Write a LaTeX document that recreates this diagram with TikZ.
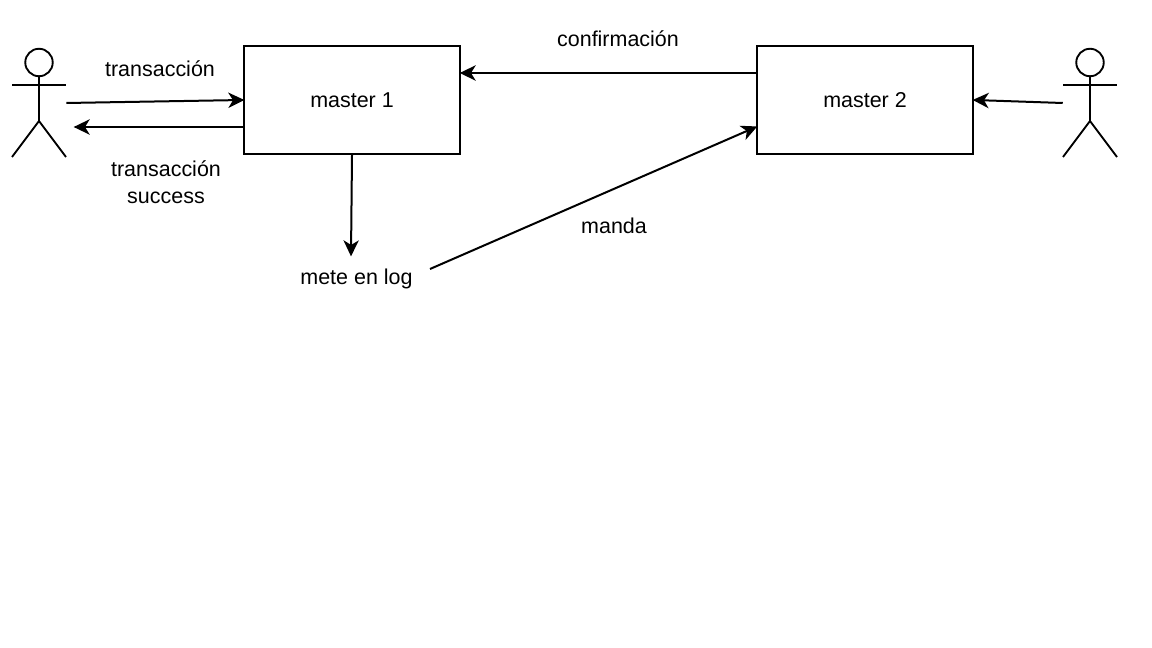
\documentclass[tikz,border=0pt]{standalone}
\usepackage{fontspec}
\setmainfont{Liberation Sans}
\usetikzlibrary{arrows.meta}
\tikzset{
  masterbox/.style={draw,line width=1.5pt,minimum width=162pt,minimum height=81pt,inner sep=0pt},
  actorbox/.style={minimum width=40.5pt,minimum height=81pt,inner sep=0pt},
  caption/.style={align=center,inner sep=0pt,font=\fontsize{16.1}{20.25}\selectfont},
  link/.style={line width=1.5pt,shorten >=-1pt,-{Stealth[length=12pt,width=11.5pt,inset=3.5pt]}},
  actor/.pic={
    \draw[line width=1.4pt] (0,-40.5) circle(10.3pt);
    \draw[line width=1.4pt] (0,-26) -- (0,18);
    \draw[line width=1.4pt] (-27,-18) -- (27,-18);
    \draw[line width=1.4pt] (-27,54) -- (0,18) -- (27,54);
  }
}
\begin{document}
\begin{tikzpicture}[x=0.75pt,y=-0.75pt]
   \useasboundingbox (0,0) rectangle (1152,648);
   \node[masterbox,caption] (master1) at (352,100) {master 1};
   \node[masterbox,caption] (master2) at (865,100) {master 2};
   \node[actorbox] (user1) at (39,103) {};
   \node[actorbox] (user2) at (1090,103) {};
   \pic at (user1) {actor};
   \pic at (user2) {actor};
   \node[caption] (txlabel) at (160,69) {transacción};
   \node[caption] (oklabel) at (166,182) {transacción\\success};
   \node[caption] (conflabel) at (618,39) {confirmación};
   \node[caption] (sendlabel) at (614,226) {manda};
   \node[caption] (loglabel) at (356.5,279) {mete en log};
   \coordinate (backend) at (75,127);
   \coordinate (logtop) at (351,255);
   \coordinate (logout) at (430,269);
   % arrows
   \draw[link] (user1.east) -- (master1.west);
   \draw[link] (master1.west |- backend) -- (backend);
   \draw[link] (master1.south) -- (logtop);
   \draw[link] (logout) -- (master2.west |- backend);
   \draw[link] (master2.west |- 0,73) -- (master1.east |- 0,73);
   \draw[link] (user2.west) -- (master2.east);
\end{tikzpicture}
\end{document}
